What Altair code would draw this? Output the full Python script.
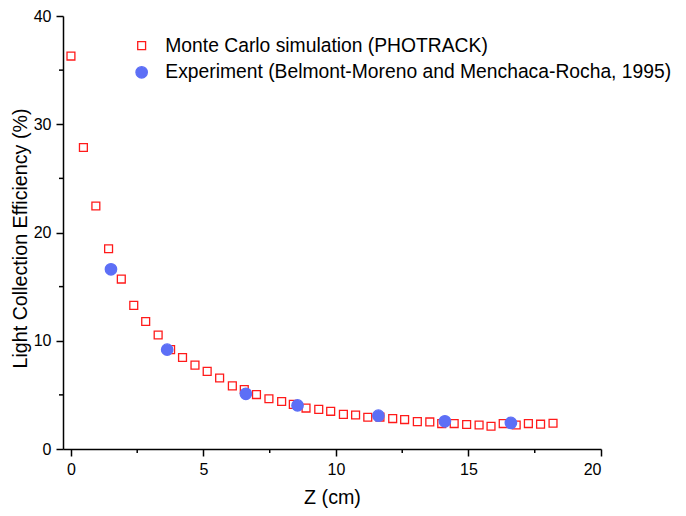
import altair as alt
import pandas as pd

# Monte Carlo simulation (PHOTRACK)
mc_z = [0.0, 0.47, 0.94, 1.42, 1.90, 2.37, 2.82, 3.29, 3.76, 4.21,
        4.68, 5.14, 5.61, 6.09, 6.54, 7.00, 7.47, 7.95, 8.39, 8.87,
        9.35, 9.80, 10.28, 10.74, 11.20, 11.66, 12.14, 12.59, 13.07, 13.54,
        13.99, 14.46, 14.93, 15.40, 15.85, 16.31, 16.80, 17.26, 17.72, 18.19]
mc_eff = [36.3, 27.85, 22.45, 18.5, 15.7, 13.27, 11.78, 10.53, 9.18, 8.45,
          7.75, 7.17, 6.56, 5.83, 5.5, 5.03, 4.64, 4.39, 4.12, 3.78,
          3.66, 3.48, 3.2, 3.14, 2.93, 2.95, 2.81, 2.72, 2.53, 2.5,
          2.35, 2.35, 2.26, 2.22, 2.1, 2.35, 2.22, 2.35, 2.29, 2.38]

# Experiment (Belmont-Moreno and Menchaca-Rocha, 1995)
exp_z = [1.51, 3.63, 6.6, 8.55, 11.6, 14.11, 16.6]
exp_eff = [16.6, 9.18, 5.1, 4.03, 3.08, 2.56, 2.41]

series_names = ["Monte Carlo simulation (PHOTRACK)",
                "Experiment (Belmont-Moreno and Menchaca-Rocha, 1995)"]

x_major = [0, 5, 10, 15, 20]
x_minor = [2.5, 7.5, 12.5, 17.5]
y_major = [0, 10, 20, 30, 40]
y_minor = [5, 15, 25, 35]

df = pd.DataFrame({
    "z": mc_z + exp_z,
    "eff": mc_eff + exp_eff,
    "series": [series_names[0]] * len(mc_z) + [series_names[1]] * len(exp_z),
})
df_xminor = pd.DataFrame({"z": x_minor})
df_yminor = pd.DataFrame({"eff": y_minor})

FONT = "Liberation Sans"
W, H = 538, 433
xscale = alt.Scale(domain=[-0.3, 20], nice=False, zero=False)
yscale = alt.Scale(domain=[0, 40], nice=False)

BLUE = "#5d6ff6"
RED = "#ff1a1a"

xaxis = alt.Axis(title="Z (cm)", values=x_major, grid=False,
                 tickSize=7, tickWidth=1.5, domainWidth=1.5,
                 domainColor="black", tickColor="black",
                 labelFont=FONT, labelFontSize=16, labelColor="black",
                 labelPadding=5, titleFont=FONT, titleFontSize=19.7,
                 titleFontWeight="normal", titleColor="black",
                 titlePadding=10)
yaxis = alt.Axis(title="Light Collection Efficiency (%)", values=y_major,
                 grid=False, tickSize=7, tickWidth=1.5, domainWidth=1.5,
                 domainColor="black", tickColor="black",
                 labelFont=FONT, labelFontSize=16, labelColor="black",
                 labelPadding=5, titleFont=FONT, titleFontSize=19.7,
                 titleFontWeight="normal", titleColor="black",
                 titlePadding=3, titleY=222)


def leg():
    return alt.Legend(title=None, orient="none", legendX=69, legendY=20,
                      labelFont=FONT, labelFontSize=19.3, labelColor="black",
                      labelOffset=14, rowPadding=6.7, symbolStrokeWidth=1.3,
                      labelLimit=0)


points = alt.Chart(df).mark_point(strokeWidth=1.3, opacity=1).encode(
    x=alt.X("z:Q", scale=xscale, axis=xaxis),
    y=alt.Y("eff:Q", scale=yscale, axis=yaxis),
    shape=alt.Shape("series:N", scale=alt.Scale(domain=series_names, range=["square", "circle"]), legend=leg()),
    fill=alt.Fill("series:N", scale=alt.Scale(domain=series_names, range=["transparent", BLUE]), legend=leg()),
    stroke=alt.Stroke("series:N", scale=alt.Scale(domain=series_names, range=[RED, BLUE]), legend=leg()),
    size=alt.Size("series:N", scale=alt.Scale(domain=series_names, range=[62, 130]), legend=leg()),
)

xminor = alt.Chart(df_xminor).mark_rule(color="black", strokeWidth=1.5).encode(
    x=alt.X("z:Q", scale=xscale, axis=xaxis),
    y=alt.value(H), y2=alt.value(H + 4),
)
yminor = alt.Chart(df_yminor).mark_rule(color="black", strokeWidth=1.5).encode(
    y=alt.Y("eff:Q", scale=yscale, axis=yaxis),
    x=alt.value(0), x2=alt.value(-4),
)

chart = alt.layer(points, xminor, yminor).properties(
    width=W, height=H,
    autosize=alt.AutoSizeParams(type="none"),
    padding={"left": 55, "top": 8, "right": 77, "bottom": 59},
    background="white",
).configure_view(stroke=None)

chart.save("out.html", embed_options={"renderer": "svg", "actions": False})
